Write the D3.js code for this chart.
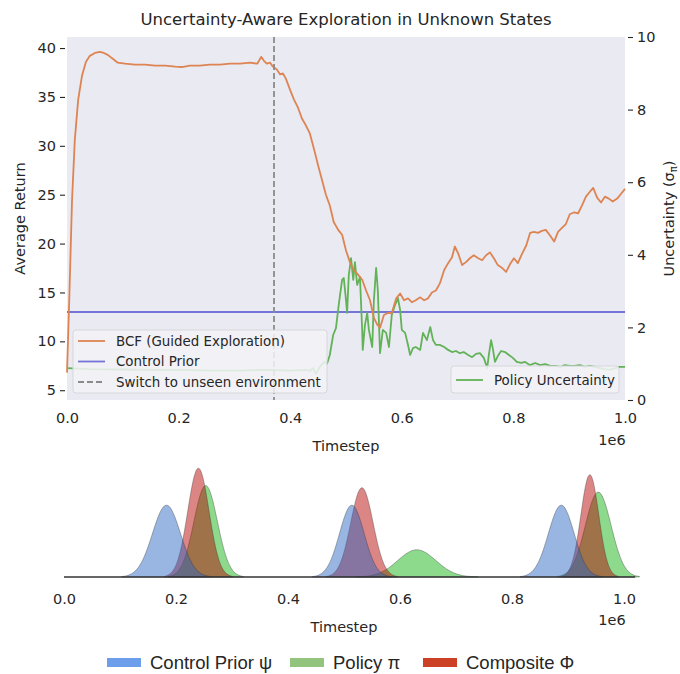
<!DOCTYPE html>
<html>
<head>
<meta charset="utf-8">
<script src="https://cdnjs.cloudflare.com/ajax/libs/d3/7.8.5/d3.min.js"></script>
<style>
  body { margin: 0; background: #fff; }
  text { font-family: "DejaVu Sans", sans-serif; fill: #262626; }
</style>
</head>
<body>
<div id="area"></div>
<script>
// timestep in units of 1e6
const bcfSteps = [0, .004, .009, .014, .020, .027, .034, .041, .050, .059, .066, .073, .082, .091, .104, .122, .140, .158, .176, .194,
  .206, .220, .238, .256, .274, .292, .310, .328, .341, .348, .353, .358, .364, .369, .376, .382, .387, .392, .400, .407,
  .414, .421, .428, .435, .443, .450, .457, .464, .471, .478, .486, .493, .500, .507, .514, .522, .529, .536, .543, .550,
  .556, .561, .568, .575, .582, .590, .597, .604, .611, .618, .625, .633, .640, .647, .654, .661, .668, .676, .683, .690,
  .695, .701, .708, .715, .722, .729, .737, .744, .751, .758, .765, .772, .780, .787, .794, .801, .808, .815, .823, .830,
  .837, .844, .851, .858, .866, .873, .880, .887, .894, .901, .909, .916, .923, .930, .937, .943, .950, .957, .964, .971,
  .978, .986, .993, 1.0];
const bcfReturn = [6.8, 14.2, 24.4, 30.6, 34.7, 37.2, 38.6, 39.2, 39.5, 39.6, 39.5, 39.3, 38.9, 38.5, 38.4, 38.3, 38.3, 38.2, 38.2, 38.1,
  38.06, 38.2, 38.2, 38.3, 38.3, 38.4, 38.4, 38.5, 38.4, 39.1, 38.7, 38.4, 38.5, 38.1, 37.8, 37.3, 37.4, 36.9, 35.7, 34.7,
  33.9, 32.8, 32.1, 31.3, 29.6, 28.0, 26.5, 25.0, 23.9, 22.2, 21.4, 20.9, 19.3, 18.1, 17.3, 16.8, 16.3, 15.2, 14.2, 12.4,
  11.7, 11.4, 12.7, 12.9, 12.9, 14.4, 14.9, 14.2, 14.4, 14.0, 14.2, 14.5, 14.2, 14.4, 15.0, 15.2, 15.9, 17.3, 18.0, 18.6,
  19.7, 19.0, 17.8, 18.1, 18.5, 18.8, 18.5, 18.3, 18.8, 19.1, 18.5, 17.8, 17.5, 17.1, 17.9, 18.5, 18.0, 18.9, 19.8, 21.1,
  21.2, 21.1, 21.3, 21.4, 20.8, 20.2, 21.2, 21.6, 22.0, 23.0, 23.2, 23.1, 23.9, 24.8, 25.3, 25.7, 24.7, 24.2, 24.8, 24.6,
  24.3, 24.6, 25.1, 25.6];

const uncSteps = [0, .041, .095, .149, .203, .256, .310, .364, .400, .427, .435, .441, .446, .453, .461, .466, .471, .477, .482, .487,
  .493, .496, .500, .502, .505, .509, .513, .516, .520, .525, .529, .530, .534, .538, .541, .547, .550, .554, .557, .561,
  .566, .572, .577, .582, .588, .593, .597, .600, .606, .611, .615, .620, .625, .633, .638, .645, .651, .656, .661, .668,
  .676, .683, .690, .697, .704, .711, .719, .726, .733, .740, .747, .753, .756, .760, .763, .767, .772, .778, .785, .792,
  .799, .806, .814, .821, .830, .839, .848, .857, .866, .875, .884, .892, .901, .910, .919, .928, .937, .946, .955, .964,
  .973, .982, .991, 1.0];
const uncValue = [.88, .85, .84, .83, .83, .81, .81, .83, .81, .83, .80, .88, .72, .91, 1.05, 1.0, 1.24, 1.79, 1.98, 2.62,
  3.31, 3.36, 2.75, 2.40, 3.44, 3.91, 3.31, 3.80, 3.17, 3.39, 1.93, 1.38, 2.07, 2.40, 1.93, 1.46, 2.75, 3.64, 3.03, 1.29,
  1.93, 1.85, 1.46, 2.34, 2.62, 2.81, 2.48, 1.93, 1.85, 1.52, 1.24, 1.43, 1.46, 1.38, 1.85, 1.65, 2.01, 1.65, 1.52, 1.52,
  1.46, 1.38, 1.32, 1.35, 1.29, 1.32, 1.24, 1.18, 1.27, 1.29, 1.16, .88, 1.24, 1.65, 1.43, 1.05, 1.21, 1.35, 1.32, 1.24,
  1.16, 1.05, 1.02, 1.05, .96, 1.02, .96, .99, .94, .94, .91, .96, .94, .94, .96, .91, .94, .91, .88, .85,
  .83, .88, .91, .91];

const controlPrior = 13;
const switchStep = 0.371;

const leftTicks = [5, 10, 15, 20, 25, 30, 35, 40];
const rightTicks = [0, 2, 4, 6, 8, 10];
const stepTicks = [0, 0.2, 0.4, 0.6, 0.8, 1.0];

// distributions below: which family, centre, spread, peak height
const distKind   = ['policy', 'policy', 'policy', 'composite', 'composite', 'composite', 'prior', 'prior', 'prior'];
const distCenter = [0.253, 0.630, 0.954, 0.240, 0.532, 0.939, 0.183, 0.514, 0.888];
const distSpread = [0.021, 0.034, 0.023, 0.019, 0.020, 0.016, 0.025, 0.022, 0.023];
const distPeak   = [0.84, 0.25, 0.78, 1.0, 0.82, 0.94, 0.66, 0.66, 0.66];

const legendNames = ['Control Prior ψ', 'Policy π', 'Composite Φ'];

const W = 680, H = 674;
const FS = 14.5;
const svg = d3.select('#area').append('svg').attr('width', W).attr('height', H);

// ---------- upper panel ----------
const box = { l: 67, r: 625, t: 37, b: 400 };
const x = d3.scaleLinear().domain([0, 1]).range([box.l, box.r]);
const yL = d3.scaleLinear().domain([4.0, 41.13]).range([box.b, box.t]);
const yR = d3.scaleLinear().domain([0, 10]).range([box.b, box.t]);

svg.append('rect').attr('x', box.l).attr('y', box.t)
  .attr('width', box.r - box.l).attr('height', box.b - box.t).attr('fill', '#eaeaf2');

svg.append('text').attr('x', (box.l + box.r) / 2).attr('y', 25)
  .attr('text-anchor', 'middle').attr('font-size', 16.5)
  .text('Uncertainty-Aware Exploration in Unknown States');

const axL = svg.append('g').attr('transform', `translate(${box.l - 2},0)`)
  .call(d3.axisLeft(yL).tickValues(leftTicks).tickSize(5).tickPadding(4));
const axR = svg.append('g').attr('transform', `translate(${box.r + 3},0)`)
  .call(d3.axisRight(yR).tickValues(rightTicks).tickSize(5).tickPadding(4));
const axX = svg.append('g').attr('transform', `translate(0,${box.b})`)
  .call(d3.axisBottom(x).tickValues(stepTicks).tickFormat(d3.format('.1f')).tickSize(0).tickPadding(13));
[axL, axR, axX].forEach(a => {
  a.select('.domain').remove();
  a.selectAll('line').attr('stroke', '#262626').attr('stroke-width', 1.1);
  a.selectAll('text').attr('font-size', FS).attr('fill', '#262626').style('font-family', 'DejaVu Sans');
});

svg.append('text').attr('x', 612).attr('y', 445).attr('text-anchor', 'middle').attr('font-size', FS).text('1e6');
svg.append('text').attr('x', (box.l + box.r) / 2).attr('y', 451).attr('text-anchor', 'middle').attr('font-size', FS).text('Timestep');
svg.append('text').attr('transform', `translate(25,${(box.t + box.b) / 2}) rotate(-90)`)
  .attr('text-anchor', 'middle').attr('font-size', FS).text('Average Return');
const rl = svg.append('text').attr('transform', `translate(674,${(box.t + box.b) / 2}) rotate(-90)`)
  .attr('text-anchor', 'middle').attr('font-size', FS);
rl.append('tspan').text('Uncertainty (σ');
rl.append('tspan').attr('font-size', 10).attr('dy', 2.5).text('π');
rl.append('tspan').attr('dy', -2.5).text(')');

const plot = svg.append('g');
plot.append('line').attr('x1', box.l).attr('x2', box.r)
  .attr('y1', yL(controlPrior)).attr('y2', yL(controlPrior))
  .attr('stroke', '#7474d8').attr('stroke-width', 1.8);

plot.append('path')
  .datum(uncSteps.map((s, i) => [s, uncValue[i]]))
  .attr('fill', 'none').attr('stroke', '#62b257').attr('stroke-width', 1.8).attr('stroke-linejoin', 'round')
  .attr('d', d3.line().x(d => x(d[0])).y(d => yR(d[1])));

plot.append('path')
  .datum(bcfSteps.map((s, i) => [s, bcfReturn[i]]))
  .attr('fill', 'none').attr('stroke', '#dd8452').attr('stroke-width', 1.8).attr('stroke-linejoin', 'round')
  .attr('d', d3.line().x(d => x(d[0])).y(d => yL(d[1])));

plot.append('line').attr('x1', x(switchStep)).attr('x2', x(switchStep))
  .attr('y1', box.t).attr('y2', box.b)
  .attr('stroke', '#8a8a8a').attr('stroke-width', 1.8).attr('stroke-dasharray', '6,3');

// legends
function legendBox(x0, y0, w, h) {
  svg.append('rect').attr('x', x0).attr('y', y0).attr('width', w).attr('height', h).attr('rx', 3)
    .attr('fill', '#f3f3f7').attr('fill-opacity', 0.85).attr('stroke', '#d6d6dc');
}
legendBox(73, 330, 254, 63);
const leftItems = [
  { label: 'BCF (Guided Exploration)', color: '#dd8452', dash: null },
  { label: 'Control Prior', color: '#7474d8', dash: null },
  { label: 'Switch to unseen environment', color: '#8a8a8a', dash: '6,3' }
];
leftItems.forEach((it, i) => {
  const cy = 341 + i * 20.5;
  svg.append('line').attr('x1', 78).attr('x2', 105).attr('y1', cy).attr('y2', cy)
    .attr('stroke', it.color).attr('stroke-width', 1.8).attr('stroke-dasharray', it.dash);
  svg.append('text').attr('x', 116).attr('y', cy + 4.8).attr('font-size', 13.4).text(it.label);
});
legendBox(451, 366, 168, 27);
svg.append('line').attr('x1', 456).attr('x2', 483).attr('y1', 380).attr('y2', 380)
  .attr('stroke', '#62b257').attr('stroke-width', 1.8);
svg.append('text').attr('x', 494).attr('y', 384.8).attr('font-size', 13.4).text('Policy Uncertainty');

// ---------- lower panel ----------
const bx = d3.scaleLinear().domain([0, 1]).range([64, 624]);
const by = d3.scaleLinear().domain([0, 1]).range([577, 468]);
const distFill = { prior: '#2965c1', policy: '#11b111', composite: '#b30101' };

const area = d3.area().x(d => bx(d[0])).y0(by(0)).y1(d => by(d[1])).curve(d3.curveBasis);
distKind.forEach((k, i) => {
  const c = distCenter[i], s = distSpread[i], p = distPeak[i];
  const pts = d3.range(-3.2, 3.21, 0.1).map(z => [c + z * s, p * Math.exp(-0.5 * z * z)]);
  svg.append('path').datum(pts)
    .attr('fill', distFill[k]).attr('fill-opacity', 0.48)
    .attr('stroke', '#333').attr('stroke-opacity', 0.45).attr('stroke-width', 0.8)
    .attr('d', area);
});
svg.append('line').attr('x1', bx(0)).attr('x2', bx(1.02)).attr('y1', by(0)).attr('y2', by(0))
  .attr('stroke', '#333').attr('stroke-width', 1.5);

const bAx = svg.append('g').attr('transform', `translate(0,${by(0)})`)
  .call(d3.axisBottom(bx).tickValues(stepTicks).tickFormat(d3.format('.1f')).tickSize(0).tickPadding(17));
bAx.select('.domain').remove();
bAx.selectAll('text').attr('font-size', FS).attr('fill', '#262626').style('font-family', 'DejaVu Sans');
svg.append('text').attr('x', 612).attr('y', 625).attr('text-anchor', 'middle').attr('font-size', FS).text('1e6');
svg.append('text').attr('x', 344).attr('y', 632).attr('text-anchor', 'middle').attr('font-size', FS).text('Timestep');

// bottom legend
const legendColor = ['#6d9eeb', '#93c47d', '#cc4125'];
const legendX = [107, 290, 423];
legendNames.forEach((n, i) => {
  svg.append('rect').attr('x', legendX[i]).attr('y', 658).attr('width', 34).attr('height', 9).attr('fill', legendColor[i]);
  svg.append('text').attr('x', legendX[i] + 43).attr('y', 669)
    .style('font-family', '"Liberation Sans", sans-serif').attr('font-size', 18.5).attr('fill', '#222').text(n);
});
</script>
</body>
</html>
